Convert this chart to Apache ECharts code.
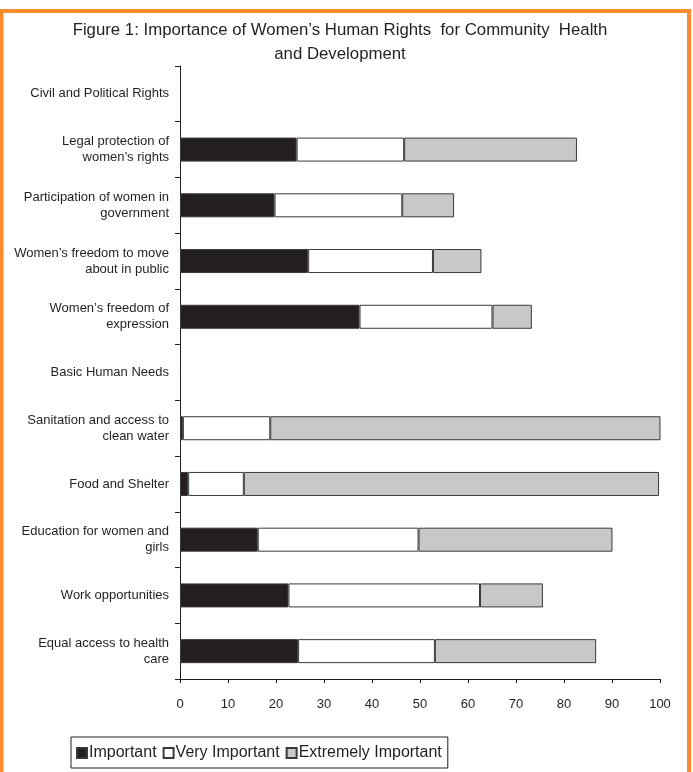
<!DOCTYPE html>
<html>
<head>
<meta charset="utf-8">
<script src="https://cdn.jsdelivr.net/npm/echarts@6/dist/echarts.min.js"></script>
<style>
  html, body { margin: 0; padding: 0; background: #ffffff; }
  #chart { width: 693px; height: 772px; }
</style>
</head>
<body>
<div id="chart"></div>
<script>
// Rights and needs, top to bottom; section headers carry no values
var categories = [
  'Civil and Political Rights',
  'Legal protection of\nwomen\u2019s rights',
  'Participation of women in\ngovernment',
  'Women\u2019s freedom to move\nabout in public',
  'Women\u2019s freedom of\nexpression',
  'Basic Human Needs',
  'Sanitation and access to\nclean water',
  'Food and Shelter',
  'Education for women and\ngirls',
  'Work opportunities',
  'Equal access to health\ncare'
];

var seriesNames = ['Important', 'Very Important', 'Extremely Important'];

// Percent of respondents per rating
var important          = [null, 24.3, 19.7, 26.7, 37.4, null, 0.6, 1.7, 16.2, 22.6, 24.6];
var veryImportant      = [null, 22.4, 26.6, 26.0, 27.7, null, 18.2, 11.6, 33.5, 39.9, 28.5];
var extremelyImportant = [null, 36.0, 10.8, 10.1,  8.2, null, 81.3, 86.5, 40.4, 13.1, 33.6];

var xTicks = { min: 0, max: 100, step: 10 };

var fontFamily = '"Liberation Sans Narrow", "Arial Narrow", "Liberation Sans", Arial, sans-serif';
var ink = '#231f20';
var fills = ['#231f20', '#ffffff', '#c7c8ca'];
var values = [important, veryImportant, extremelyImportant];

var chart = echarts.init(document.getElementById('chart'), null, { renderer: 'canvas' });

var series = seriesNames.map(function (name, i) {
  return {
    name: name,
    type: 'bar',
    stack: 'rating',
    barWidth: 24,
    data: values[i],
    itemStyle: { color: fills[i], borderColor: '#3a3a3a', borderWidth: 1 },
    emphasis: { disabled: true }
  };
});

chart.setOption({
  animation: false,
  backgroundColor: '#ffffff',
  textStyle: { fontFamily: fontFamily, color: ink },
  title: {
    text: 'Figure 1: Importance of Women\u2019s Human Rights  for Community  Health\nand Development',
    left: 335,
    top: 13,
    textAlign: 'center',
    textStyle: { fontFamily: fontFamily, fontSize: 16.8, fontWeight: 'normal', color: ink, lineHeight: 24 }
  },
  grid: { left: 180, right: 33, top: 66, bottom: 93, containLabel: false },
  xAxis: {
    type: 'value',
    min: xTicks.min,
    max: xTicks.max,
    interval: xTicks.step,
    axisLine: { show: true, lineStyle: { color: ink, width: 1 } },
    axisTick: { show: true, length: 4, lineStyle: { color: ink } },
    splitLine: { show: false },
    axisLabel: { margin: 19, fontSize: 13, color: ink, fontFamily: fontFamily }
  },
  yAxis: {
    type: 'category',
    inverse: true,
    data: categories,
    axisLine: { show: true, lineStyle: { color: ink, width: 1 } },
    axisTick: { show: true, length: 5, lineStyle: { color: ink } },
    splitLine: { show: false },
    axisLabel: { margin: 11, fontSize: 13, lineHeight: 16, color: ink, fontFamily: fontFamily }
  },
  legend: {
    data: seriesNames,
    left: 71,
    top: 737,
    icon: 'rect',
    itemWidth: 10,
    itemHeight: 10,
    itemGap: 6,
    padding: [8, 6, 7, 5],
    borderColor: ink,
    borderWidth: 1,
    selectedMode: false,
    textStyle: { fontFamily: fontFamily, fontSize: 16, color: ink, padding: [0, 0, 0, -3] }
  },
  graphic: [{
    type: 'rect',
    silent: true,
    z: 100,
    shape: { x: 1.5, y: 11, width: 687.5, height: 800 },
    style: { fill: 'none', stroke: '#f68c2e', lineWidth: 4 }
  }],
  series: series
});
</script>
</body>
</html>
